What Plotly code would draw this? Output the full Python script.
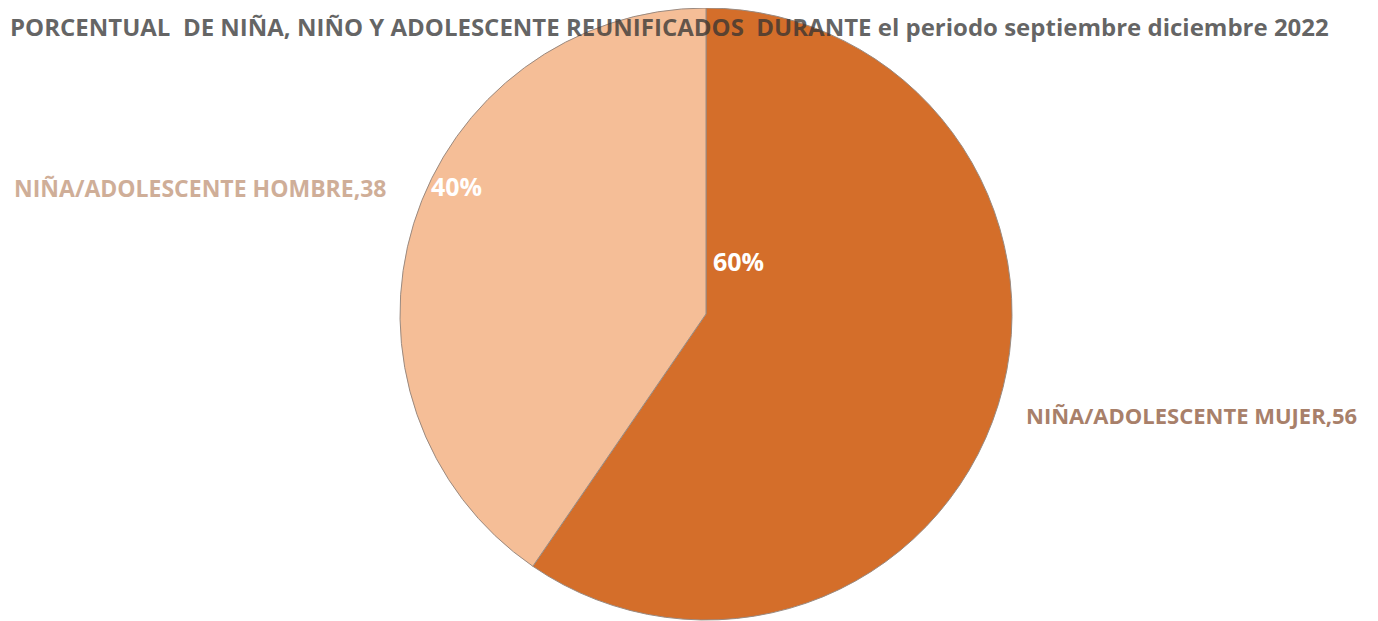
import plotly.graph_objects as go

categories = ["NIÑA/ADOLESCENTE MUJER", "NIÑA/ADOLESCENTE HOMBRE"]
values = [56, 38]
colors = ["#D46E2A", "#F5BE97"]
title_text = "PORCENTUAL  DE NIÑA, NIÑO Y ADOLESCENTE REUNIFICADOS  DURANTE el periodo septiembre diciembre 2022"

W, H = 1378, 621
OFF = 8  # page body margin offset
total = sum(values)
pcts = [round(v / total * 100) for v in values]

# pie: diameter 612 px, centred at figure x 698
D = 612
cx = 698
fig = go.Figure(go.Pie(
    labels=categories,
    values=values,
    sort=False,
    direction="clockwise",
    rotation=0,
    marker=dict(colors=colors, line=dict(color="#9a8a80", width=1)),
    textinfo="none",
    hoverinfo="label+value+percent",
    domain=dict(x=[(cx - 500) / W, (cx + 500) / W], y=[1 - D / H, 1]),
    showlegend=False,
))

def px(x, y):
    # reference pixel -> paper coords (compensating page offset)
    return (x - OFF) / W, 1 - (y - OFF) / H

annotations = []
for (x, y), p in zip([(738, 261), (456, 186)], pcts):
    ax, ay = px(x, y)
    annotations.append(dict(x=ax, y=ay, xref="paper", yref="paper", text=f"<b>{p}%</b>",
                            showarrow=False, font=dict(family="Open Sans", size=25, color="#FFFFFF"),
                            xanchor="center", yanchor="middle"))
ax, ay = px(12, 188)
annotations.append(dict(x=ax, y=ay, xref="paper", yref="paper",
                        text=f"<b>{categories[1]},{values[1]}</b>", showarrow=False,
                        font=dict(family="Open Sans", size=23, color="#CFAE98"),
                        xanchor="left", yanchor="middle"))
ax, ay = px(1024, 415)
annotations.append(dict(x=ax, y=ay, xref="paper", yref="paper",
                        text=f"<b>{categories[0]},{values[0]}</b>", showarrow=False,
                        font=dict(family="Open Sans", size=22, color="#A8806A"),
                        xanchor="left", yanchor="middle"))
annotations.append(dict(x=0, y=1, xref="paper", yref="paper",
                        text=f"<b>{title_text}</b>", showarrow=False,
                        font=dict(family="Open Sans", size=24, color="rgba(50,50,50,0.75)"),
                        xanchor="left", yanchor="top"))

fig.update_layout(
    width=W, height=H,
    margin=dict(l=0, r=0, t=0, b=0),
    paper_bgcolor="white",
    plot_bgcolor="white",
    annotations=annotations,
)

fig.write_html("out.html")
